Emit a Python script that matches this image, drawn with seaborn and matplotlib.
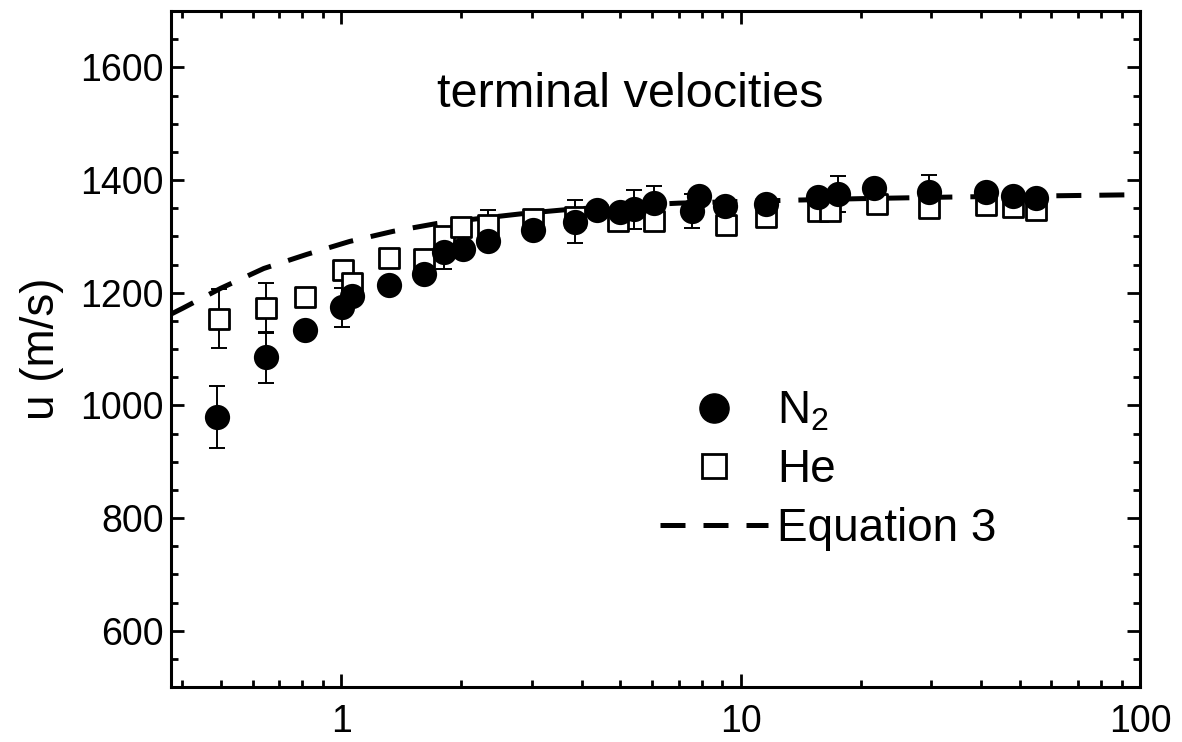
import matplotlib
matplotlib.use("Agg")
import matplotlib.pyplot as plt
from matplotlib import font_manager
from matplotlib.lines import Line2D
from matplotlib.ticker import FixedLocator, LogLocator, MultipleLocator, NullFormatter
import seaborn as sns

# N2 terminal velocities (filled circles)
n2_x = [0.49, 0.647, 0.81, 1.006, 1.067, 1.32, 1.61, 1.81, 2.02, 2.33, 3.03, 3.86,
        4.37, 4.98, 5.40, 6.06, 7.54, 7.85, 9.12, 11.6, 15.6, 17.5, 21.6, 29.7,
        41.2, 48.1, 55.0]
n2_u = [980, 1085, 1134, 1174, 1194, 1214, 1233, 1272, 1277, 1292, 1312, 1326,
        1347, 1343, 1348, 1360, 1345, 1371, 1354, 1357, 1370, 1375, 1386, 1379,
        1378, 1372, 1368]
n2_err = [55, 45, 0, 35, 0, 0, 0, 30, 0, 0, 0, 38,
          0, 0, 35, 30, 30, 0, 0, 0, 0, 32, 0, 30,
          0, 0, 0]

# He terminal velocities (open squares)
he_x = [0.494, 0.647, 0.81, 1.008, 1.066, 1.32, 1.61, 1.81, 2.0, 2.33, 3.03, 3.86,
        4.93, 6.08, 9.2, 11.6, 15.6, 16.7, 21.9, 29.7, 41.2, 48.1, 55.0]
he_u = [1154, 1173, 1192, 1241, 1218, 1262, 1260, 1301, 1316, 1321, 1330, 1335,
        1328, 1327, 1320, 1335, 1345, 1345, 1357, 1350, 1355, 1352, 1346]
he_err = [52, 45, 0, 0, 0, 0, 0, 0, 0, 25, 0, 0,
          0, 0, 0, 0, 0, 0, 0, 0, 0, 0, 0]

# Equation 3 curve
eq_x = [0.375, 0.4, 0.5, 0.64, 0.82, 1.05, 1.35, 1.74, 2.3, 2.9, 3.6, 5, 7, 10,
        15, 20, 35, 60, 100]
eq_u = [1162, 1172, 1208, 1243, 1268, 1291, 1309, 1323, 1333, 1341, 1347, 1354,
        1359, 1362, 1365, 1367, 1370, 1372, 1374]

x_ticks = [1, 10, 100]
x_tick_labels = ["1", "10", "100"]

sns.set_theme(style="ticks")
plt.rcParams["font.family"] = ["Liberation Sans", "DejaVu Sans"]
plt.rcParams["mathtext.default"] = "regular"
for key in ["text.color", "axes.labelcolor", "xtick.color", "ytick.color", "axes.edgecolor"]:
    plt.rcParams[key] = "black"

installed = {f.name for f in font_manager.fontManager.ttflist}
narrow = "Liberation Sans Narrow" if "Liberation Sans Narrow" in installed else "Liberation Sans"

fig = plt.figure(figsize=(11.82, 7.42), dpi=100)
ax = fig.add_axes([0.1447, 0.0741, 0.8198, 0.911])

sns.lineplot(x=eq_x, y=eq_u, ax=ax, color="black", lw=3.6, sort=False,
             linestyle=(0, (5, 3.6)), zorder=2)

# error bars only where they show in the figure
ex = [x for x, e in zip(he_x, he_err) if e > 0]
ey = [u for u, e in zip(he_u, he_err) if e > 0]
ee = [e for e in he_err if e > 0]
ax.errorbar(ex, ey, yerr=ee, fmt="none", ecolor="black", elinewidth=1.4,
            capsize=5.5, capthick=1.4, zorder=3)
ex = [x for x, e in zip(n2_x, n2_err) if e > 0]
ey = [u for u, e in zip(n2_u, n2_err) if e > 0]
ee = [e for e in n2_err if e > 0]
ax.errorbar(ex, ey, yerr=ee, fmt="none", ecolor="black", elinewidth=1.4,
            capsize=5.5, capthick=1.4, zorder=3)

sns.scatterplot(x=he_x, y=he_u, ax=ax, marker="s", s=211, facecolor="white",
                edgecolor="black", linewidth=2.0, zorder=4)
sns.scatterplot(x=n2_x, y=n2_u, ax=ax, marker="o", s=330, color="black",
                edgecolor="black", linewidth=0, zorder=5)

ax.set_xscale("log")
ax.set_xlim(0.375, 100)
ax.set_ylim(500, 1700)
ax.xaxis.set_major_locator(FixedLocator(x_ticks))
ax.set_xticklabels(x_tick_labels, fontsize=27, family=narrow)
ax.xaxis.set_minor_locator(LogLocator(base=10, subs=range(2, 10), numticks=20))
ax.xaxis.set_minor_formatter(NullFormatter())
ax.yaxis.set_major_locator(MultipleLocator(200))
ax.yaxis.set_minor_locator(MultipleLocator(50))
ax.tick_params(which="both", direction="in", top=True, right=True, width=2,
               color="black")
ax.tick_params(which="major", length=9.5)
ax.tick_params(which="minor", length=5)
ax.tick_params(axis="y", labelsize=27, pad=5)
ax.tick_params(axis="x", pad=12)
for sp in ax.spines.values():
    sp.set_linewidth(2.2)
    sp.set_color("black")

ax.set_xlabel("")
ax.set_ylabel("u (m/s)", fontsize=33, labelpad=12)
ax.text(0.474, 0.877, "terminal velocities", transform=ax.transAxes,
        ha="center", va="center", fontsize=35)

handles = [
    Line2D([], [], marker="o", ls="none", color="black", markersize=21),
    Line2D([], [], marker="s", ls="none", markerfacecolor="white",
           markeredgecolor="black", markeredgewidth=2, markersize=17),
    Line2D([], [], color="black", lw=3.6, linestyle=(0, (5, 3.6))),
]
ax.legend(handles, [r"N$_2$", "He", "Equation 3"], loc="upper left",
          bbox_to_anchor=(0.505, 0.44), frameon=False, fontsize=33,
          handlelength=2.35, handletextpad=0.2, labelspacing=0.32,
          borderpad=0, borderaxespad=0)

fig.savefig("out.png", dpi=100)
